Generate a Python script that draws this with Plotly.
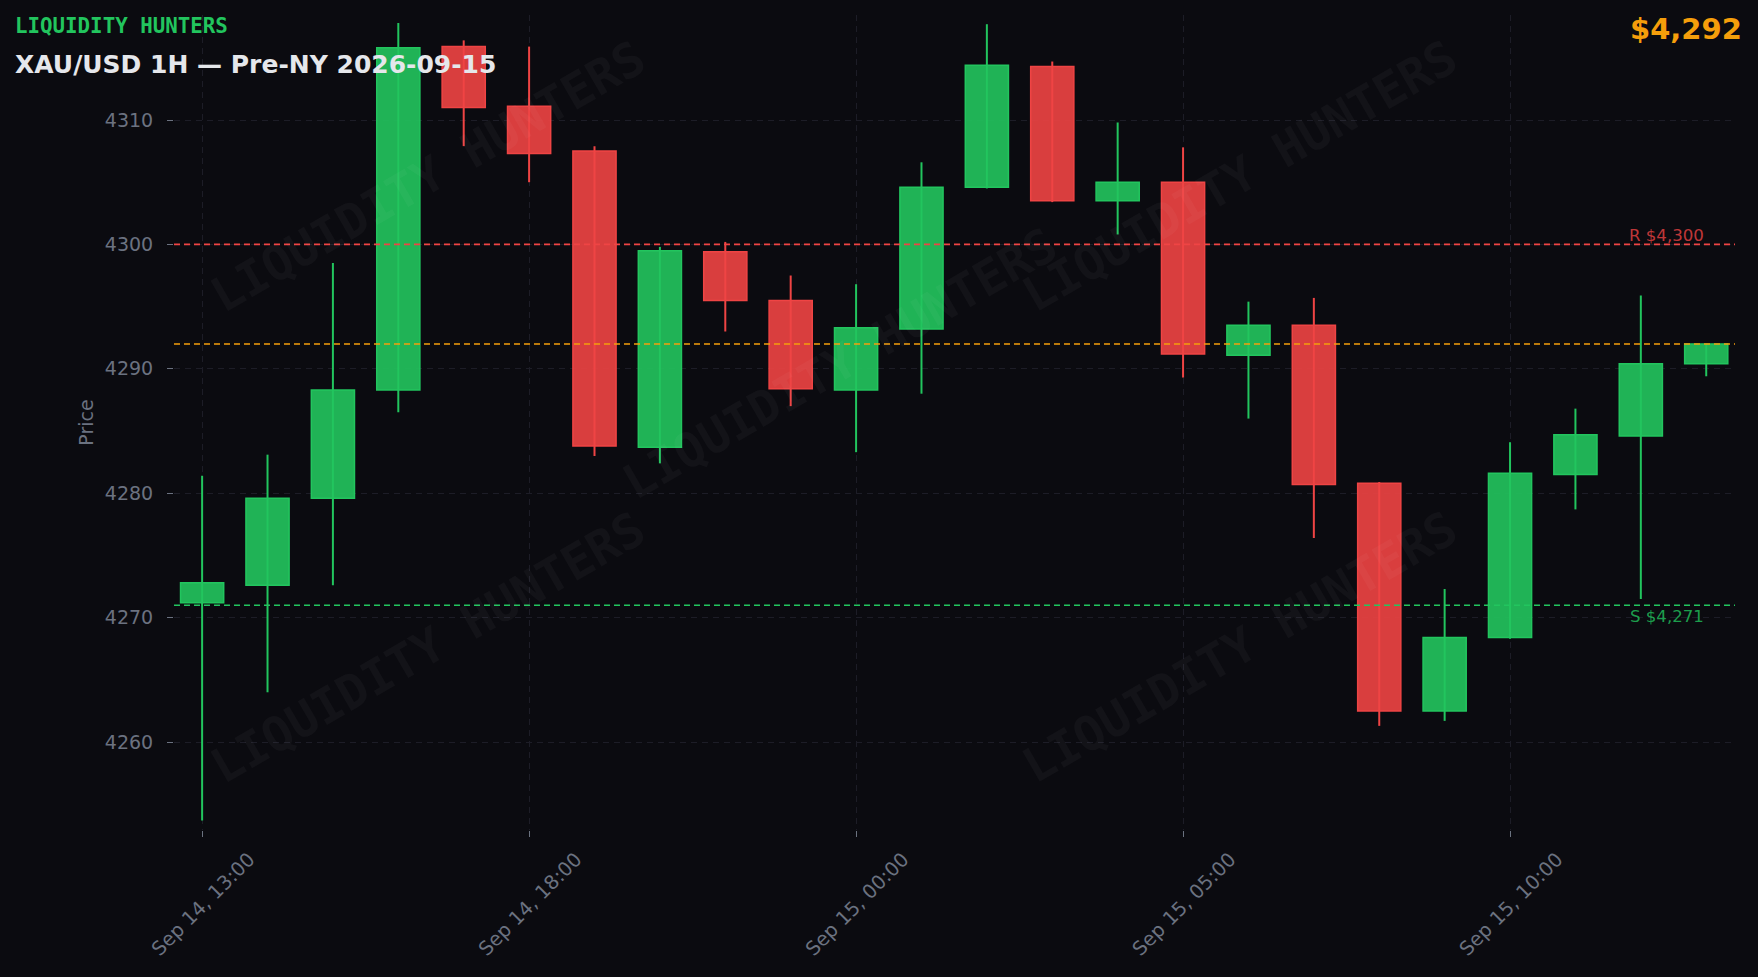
import plotly.graph_objects as go

# ---------------- data ----------------
time_labels = [
    "Sep 14, 13:00", "Sep 14, 14:00", "Sep 14, 15:00", "Sep 14, 16:00",
    "Sep 14, 17:00", "Sep 14, 18:00", "Sep 14, 19:00", "Sep 14, 20:00",
    "Sep 14, 21:00", "Sep 14, 23:00", "Sep 15, 00:00", "Sep 15, 01:00",
    "Sep 15, 02:00", "Sep 15, 03:00", "Sep 15, 04:00", "Sep 15, 05:00",
    "Sep 15, 06:00", "Sep 15, 07:00", "Sep 15, 08:00", "Sep 15, 09:00",
    "Sep 15, 10:00", "Sep 15, 11:00", "Sep 15, 12:00", "Sep 15, 13:00",
]
opens = [4271.2, 4272.6, 4279.6, 4288.3, 4315.9, 4311.1, 4307.5, 4283.7,
         4299.4, 4295.5, 4288.3, 4293.2, 4304.6, 4314.3, 4303.5, 4305.0,
         4291.1, 4293.5, 4280.8, 4262.5, 4268.4, 4281.5, 4284.6, 4290.4]
highs = [4281.4, 4283.1, 4298.5, 4317.8, 4316.4, 4315.9, 4307.9, 4299.8,
         4300.2, 4297.5, 4296.8, 4306.6, 4317.7, 4314.7, 4309.8, 4307.8,
         4295.4, 4295.7, 4280.9, 4272.3, 4284.1, 4286.8, 4295.9, 4292.0]
lows = [4253.7, 4264.0, 4272.6, 4286.5, 4307.9, 4305.0, 4283.0, 4282.4,
        4293.0, 4287.0, 4283.3, 4288.0, 4304.5, 4303.4, 4300.8, 4289.3,
        4286.0, 4276.4, 4261.3, 4261.7, 4268.3, 4278.7, 4271.5, 4289.4]
closes = [4272.8, 4279.6, 4288.3, 4315.8, 4311.0, 4307.3, 4283.8, 4299.5,
          4295.5, 4288.4, 4293.3, 4304.6, 4314.4, 4303.5, 4305.0, 4291.2,
          4293.5, 4280.7, 4262.5, 4268.4, 4281.6, 4284.7, 4290.4, 4292.0]
tick_idx = [0, 5, 10, 15, 20]
y_ticks = [4260, 4270, 4280, 4290, 4300, 4310]
resistance = 4300
support = 4271
last_price = 4292

brand = "LIQUIDITY HUNTERS"
title = "XAU/USD 1H \u2014 Pre-NY 2026-09-15"

# ---------------- styles ----------------
BG = "#0b0b10"
GREEN = "#22c55e"
RED = "#ef4444"
ORANGE = "#f59e0b"
GRAY = "#6b7280"
GRID = "#1d1d27"
GREEN_FILL = "rgba(34,197,94,0.9)"
RED_FILL = "rgba(239,68,68,0.9)"

n = len(closes)
xs = list(range(n))
up = [c >= o for o, c in zip(opens, closes)]

fig = go.Figure()

# wicks
for is_up, col in [(True, GREEN), (False, RED)]:
    wx, wy = [], []
    for i in xs:
        if up[i] == is_up:
            wx += [i, i, None]
            wy += [lows[i], highs[i], None]
    fig.add_trace(go.Scatter(x=wx, y=wy, mode="lines",
                             line=dict(color=col, width=2),
                             hoverinfo="skip", showlegend=False))

# bodies
for is_up, fill, col in [(True, GREEN_FILL, GREEN), (False, RED_FILL, RED)]:
    bx = [i for i in xs if up[i] == is_up]
    base = [min(opens[i], closes[i]) for i in bx]
    h = [abs(closes[i] - opens[i]) for i in bx]
    fig.add_trace(go.Bar(x=bx, y=h, base=base, width=0.66,
                         marker=dict(color=fill, line=dict(color=col, width=1.5)),
                         hoverinfo="skip", showlegend=False))

# invisible helper trace on the label axis
fig.add_trace(go.Scatter(x=xs, y=closes, mode="lines", xaxis="x2",
                         line=dict(width=0), opacity=0,
                         hoverinfo="skip", showlegend=False))

# level lines
for lvl, col in [(resistance, RED), (last_price, ORANGE), (support, GREEN)]:
    fig.add_hline(y=lvl, line=dict(color=col, width=1.6, dash="6px,4px"),
                  layer="above")

XR = [-0.43, 23.44]
YR = [4252.93, 4318.44]

fig.update_layout(
    width=1758, height=977,
    margin=dict(l=174, r=23, t=15, b=147),
    paper_bgcolor=BG, plot_bgcolor=BG,
    barmode="overlay",
    showlegend=False,
    font=dict(family="DejaVu Sans", color=GRAY),
    xaxis=dict(range=XR, tickvals=tick_idx, ticktext=["" for _ in tick_idx],
               showgrid=True, gridcolor=GRID, griddash="6px,5px", gridwidth=1,
               ticks="outside", ticklen=6, tickcolor=GRAY, tickwidth=1,
               zeroline=False, showline=False, fixedrange=True),
    xaxis2=dict(range=XR, overlaying="x", side="bottom", anchor="y",
                tickvals=[i + 0.72 for i in tick_idx],
                ticktext=[time_labels[i] for i in tick_idx],
                tickangle=-45, ticks="", showgrid=False, zeroline=False,
                showline=False, ticklabelstandoff=13,
                tickfont=dict(size=19.5, color=GRAY, family="DejaVu Sans")),
    yaxis=dict(range=YR, tickvals=y_ticks,
               showgrid=True, gridcolor=GRID, griddash="6px,5px", gridwidth=1,
               ticks="outside", ticklen=6, tickcolor=GRAY, tickwidth=1,
               ticklabelstandoff=10,
               tickfont=dict(size=19, color=GRAY, family="DejaVu Sans"),
               zeroline=False, showline=False,
               title=dict(text="Price", standoff=6,
                          font=dict(size=19, color=GRAY, family="DejaVu Sans"))),
)

# watermark
wm_pos = [(0.1627, 0.8025), (0.4266, 0.5730), (0.6823, 0.8025),
          (0.1627, 0.2245), (0.6823, 0.2245)]
for wx_, wy_ in wm_pos:
    fig.add_annotation(x=wx_, y=wy_, xref="paper", yref="paper",
                       text=f"<b>{brand}</b>", showarrow=False,
                       textangle=-30, xanchor="center", yanchor="middle",
                       font=dict(family="DejaVu Sans Mono", size=48,
                                 color="rgba(255,255,255,0.035)"))

# level labels
fig.add_annotation(x=n - 1, y=resistance, xref="x", yref="y",
                   text=f"R ${resistance:,}", showarrow=False,
                   xanchor="right", yanchor="bottom", yshift=-3,
                   font=dict(size=16.6, color="rgba(239,68,68,0.8)"))
fig.add_annotation(x=n - 1, y=support, xref="x", yref="y",
                   text=f"S ${support:,}", showarrow=False,
                   xanchor="right", yanchor="top",
                   font=dict(size=16.6, color="rgba(34,197,94,0.8)"))

# header texts
fig.add_annotation(x=-0.1033, y=0.9865, xref="paper", yref="paper",
                   text=f"<b>{brand}</b>", showarrow=False,
                   xanchor="left", yanchor="middle",
                   font=dict(family="DejaVu Sans Mono", size=20.8, color=GREEN))
fig.add_annotation(x=-0.1033, y=0.9387, xref="paper", yref="paper",
                   text=f"<b>{title}</b>", showarrow=False,
                   xanchor="left", yanchor="middle",
                   font=dict(family="DejaVu Sans", size=25, color="#e5e7eb"))
fig.add_annotation(x=1.006, y=0.9828, xref="paper", yref="paper",
                   text=f"<b>${last_price:,}</b>", showarrow=False,
                   xanchor="right", yanchor="middle",
                   font=dict(family="DejaVu Sans", size=29, color=ORANGE))

fig.write_html(
    "out.html",
    config={"displayModeBar": False},
    post_script=("document.body.style.margin='0';"
                 "document.body.style.background='#0b0b10';"
                 "document.body.style.overflow='hidden';"),
)
